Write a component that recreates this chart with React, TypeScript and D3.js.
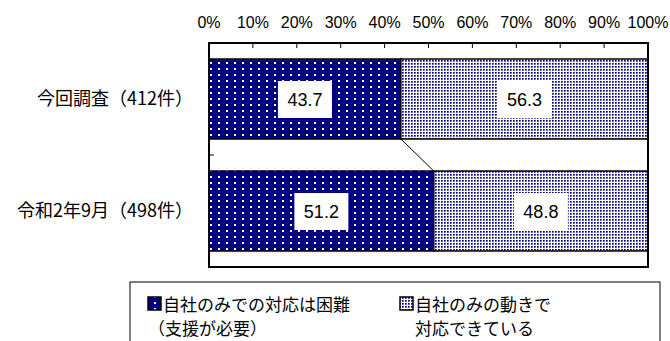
import React from 'react';
import * as d3 from 'd3';

const categories = ['今回調査（412件）', '令和2年9月（498件）'];
const hardValues = [43.7, 51.2];
const ableValues = [56.3, 48.8];
const tickValues = [0, 10, 20, 30, 40, 50, 60, 70, 80, 90, 100];
const seriesKeys = ['hard', 'able'];
const legendLines = [
  ['自社のみでの対応は困難', '（支援が必要）'],
  ['自社のみの動きで', '対応できている'],
];

const W = 670;
const H = 341;
const plot = { left: 209, right: 648, top: 43, bottom: 267 };
const jp = '"Noto Sans CJK JP", sans-serif';
const num = '"Liberation Sans", Arial, sans-serif';
const navy = '#000080';

interface Row {
  cat: string;
  hard: number;
  able: number;
}

export default function App() {
  const rows: Row[] = categories.map((cat, i) => ({
    cat,
    hard: hardValues[i],
    able: ableValues[i],
  }));

  const x = d3.scaleLinear().domain([0, 100]).range([plot.left, plot.right]);
  const y = d3
    .scaleBand<string>()
    .domain(categories)
    .range([plot.top, plot.bottom])
    .paddingInner(0.286)
    .paddingOuter(0.143);
  const bw = y.bandwidth();

  const stacked = d3.stack<Row>().keys(seriesKeys)(rows);
  const fills = ['url(#darkDots)', 'url(#lightDots)'];

  // series line between the two bars
  const hardSeries = stacked[0];
  const connector = {
    x1: x(hardSeries[0][1]),
    y1: (y(categories[0]) ?? 0) + bw,
    x2: x(hardSeries[1][1]),
    y2: y(categories[1]) ?? 0,
  };
  const midY = (y(categories[0]) ?? 0) + bw + (y.step() - bw) / 2;

  const legendX = [148, 400];

  return (
    <svg
      width={W}
      height={H}
      style={{ position: 'absolute', left: 0, top: 0, background: '#fff' }}
    >
      <defs>
        <pattern id="darkDots" width={8} height={6} patternUnits="userSpaceOnUse">
          <rect width={8} height={6} fill={navy} />
          <rect x={2} y={2} width={2} height={2} fill="#fff" />
        </pattern>
        <pattern id="lightDots" width={3} height={3} patternUnits="userSpaceOnUse">
          <rect width={3} height={3} fill="#fff" />
          <rect x={0} y={0} width={1.7} height={1.7} fill={navy} />
        </pattern>
      </defs>

      {/* tick labels */}
      {tickValues.map((t) => (
        <text
          key={`tl-${t}`}
          x={x(t)}
          y={28}
          textAnchor="middle"
          fontFamily={num}
          fontSize={16}
          fill="#000"
        >
          {t}%
        </text>
      ))}

      {/* bars */}
      {stacked.map((s, si) =>
        s.map((d) => (
          <rect
            key={`bar-${si}-${d.data.cat}`}
            x={x(d[0])}
            y={y(d.data.cat)}
            width={x(d[1]) - x(d[0])}
            height={bw}
            fill={fills[si]}
            stroke="#000"
            strokeWidth={1.5}
          />
        ))
      )}

      <line {...connector} stroke="#000" strokeWidth={1} />

      {/* frame */}
      <rect
        x={plot.left}
        y={plot.top}
        width={plot.right - plot.left}
        height={plot.bottom - plot.top}
        fill="none"
        stroke="#000"
        strokeWidth={2}
      />
      {tickValues.slice(1, -1).map((t) => (
        <line
          key={`tk-${t}`}
          x1={x(t)}
          x2={x(t)}
          y1={plot.top}
          y2={plot.top + 5}
          stroke="#000"
          strokeWidth={1}
        />
      ))}
      <line x1={plot.left} x2={plot.left + 5} y1={midY} y2={midY} stroke="#000" />

      {/* data labels */}
      {stacked.map((s, si) =>
        s.map((d) => {
          const cx = (x(d[0]) + x(d[1])) / 2;
          const cy = (y(d.data.cat) ?? 0) + bw / 2;
          return (
            <g key={`lbl-${si}-${d.data.cat}`}>
              <rect x={cx - 27} y={cy - 18} width={54} height={37} fill="#fff" />
              <text
                x={cx}
                y={cy + 7}
                textAnchor="middle"
                fontFamily={num}
                fontSize={18}
                fill="#000"
              >
                {(d[1] - d[0]).toFixed(1)}
              </text>
            </g>
          );
        })
      )}

      {/* category labels */}
      {categories.map((c) => (
        <text
          key={`cat-${c}`}
          x={plot.left - 16}
          y={(y(c) ?? 0) + bw / 2 + 6}
          textAnchor="end"
          fontFamily={jp}
          fontSize={18}
          fill="#000"
        >
          {c}
        </text>
      ))}

      {/* legend */}
      <rect x={130} y={282} width={530} height={80} fill="#fff" stroke="#000" strokeWidth={1} />
      {legendLines.map((lines, i) => (
        <g key={`lg-${i}`}>
          <rect
            x={legendX[i]}
            y={297}
            width={13}
            height={13}
            fill={fills[i]}
            stroke="#000"
            strokeWidth={1.5}
          />
          <text x={legendX[i] + 15} y={311} fontFamily={jp} fontSize={17} fill="#000">
            {lines[0]}
          </text>
          <text
            x={i === 0 ? legendX[i] : legendX[i] + 15}
            y={335}
            fontFamily={jp}
            fontSize={17}
            fill="#000"
          >
            {lines[1]}
          </text>
        </g>
      ))}
    </svg>
  );
}
